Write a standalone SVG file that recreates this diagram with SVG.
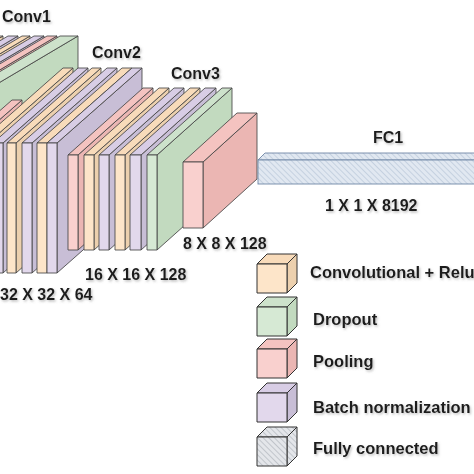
<svg xmlns="http://www.w3.org/2000/svg" width="474" height="474" viewBox="0 0 474 474">
<defs>
<style>
.s{stroke:#444;stroke-width:0.85;stroke-linejoin:round}
.pe-f{fill:#fde5c9}.pe-t{fill:#f8dbba}.pe-s{fill:#ecd0ae}
.pu-f{fill:#e2d8ec}.pu-t{fill:#d8cde5}.pu-s{fill:#c8bed6}
.pk-f{fill:#f9d0ce}.pk-t{fill:#f4c3c0}.pk-s{fill:#ebb6b3}
.gr-f{fill:#d6e9d4}.gr-t{fill:#cde2cb}.gr-s{fill:#c2dabf}
.fc{fill:url(#hatch);stroke:#6f87a6;stroke-width:0.9}
.lg{stroke:#333;stroke-width:1;stroke-linejoin:round}
.hx{fill:url(#hatch2);stroke:#333;stroke-width:1;stroke-linejoin:round}
text{font-family:"Liberation Sans",Arial,sans-serif;font-weight:bold;font-size:16px;fill:#1e1e1e;filter:url(#sh)}
.lt{font-size:16.5px}
</style>
<filter id="sh" x="-10%" y="-40%" width="130%" height="200%">
<feDropShadow dx="1.2" dy="1.5" stdDeviation="1.2" flood-color="#7a7a7a" flood-opacity="0.5"/>
</filter>
<pattern id="hatch" width="4" height="4" patternUnits="userSpaceOnUse" patternTransform="rotate(-45)">
<rect width="4" height="4" fill="#e1e8f1"/>
<line x1="0" y1="0" x2="0" y2="4" stroke="#b3c2d5" stroke-width="1.2"/>
</pattern>
<pattern id="hatch2" width="4" height="4" patternUnits="userSpaceOnUse" patternTransform="rotate(-45)">
<rect width="4" height="4" fill="#e4e6ea"/>
<line x1="0" y1="0" x2="0" y2="4" stroke="#9ea4ad" stroke-width="1"/>
</pattern>
</defs>
<rect width="474" height="474" fill="#ffffff"/>

<g id="conv1-stack">
<g id="a1"><path class="s pe-s" d="M-127 113 L3 36 L3 196 L-127 273Z"/><path class="s pe-t" d="M-135 113 L-5 36 L3 36 L-127 113Z"/></g>
<g id="a2"><path class="s pu-s" d="M-112 113 L18 36 L18 196 L-112 273Z"/><path class="s pu-t" d="M-122 113 L8 36 L18 36 L-112 113Z"/></g>
<g id="a3"><path class="s pe-s" d="M-100 113 L30 36 L30 196 L-100 273Z"/><path class="s pe-t" d="M-108 113 L22 36 L30 36 L-100 113Z"/></g>
<g id="a4"><path class="s pu-s" d="M-86 113 L44 36 L44 196 L-86 273Z"/><path class="s pu-t" d="M-96 113 L34 36 L44 36 L-86 113Z"/></g>
<g id="a5"><path class="s pk-s" d="M-73 113 L57 36 L57 196 L-73 273Z"/><path class="s pk-t" d="M-83 113 L47 36 L57 36 L-73 113Z"/></g>
<g id="a6"><path class="s gr-s" d="M-52 113 L78 36 L78 196 L-52 273Z"/><path class="s gr-t" d="M-70 113 L60 36 L78 36 L-52 113Z"/></g>
</g>

<g id="conv2-stack">
<g id="b0"><path class="s pk-s" d="M-27 143 L22 100 L22 230 L-27 273Z"/><path class="s pk-t" d="M-37 143 L12 100 L22 100 L-27 143Z"/></g>
<g id="b1"><path class="s pe-s" d="M-12 143 L73 68 L73 198 L-12 273Z"/><path class="s pe-t" d="M-22 143 L63 68 L73 68 L-12 143Z"/></g>
<g id="b2"><path class="s pu-s" d="M3 143 L88 68 L88 198 L3 273Z"/><path class="s pu-t" d="M-7 143 L78 68 L88 68 L3 143Z"/><rect class="s pu-f" x="-7" y="143" width="10" height="130"/></g>
<g id="b3"><path class="s pe-s" d="M16 143 L101 68 L101 198 L16 273Z"/><path class="s pe-t" d="M7 143 L92 68 L101 68 L16 143Z"/><rect class="s pe-f" x="7" y="143" width="9" height="130"/></g>
<g id="b4"><path class="s pu-s" d="M32 143 L117 68 L117 198 L32 273Z"/><path class="s pu-t" d="M22 143 L107 68 L117 68 L32 143Z"/><rect class="s pu-f" x="22" y="143" width="10" height="130"/></g>
<g id="b5"><path class="s pe-s" d="M47 143 L132 68 L132 198 L47 273Z"/><path class="s pe-t" d="M37 143 L122 68 L132 68 L47 143Z"/><rect class="s pe-f" x="37" y="143" width="10" height="130"/></g>
<g id="b6"><path class="s pu-s" d="M57 143 L142 68 L142 198 L57 273Z"/><path class="s pu-t" d="M47 143 L132 68 L142 68 L57 143Z"/><rect class="s pu-f" x="47" y="143" width="10" height="130"/></g>
</g>

<g id="conv3-stack">
<g id="c1"><path class="s pk-s" d="M78 155 L153 88 L153 183 L78 250Z"/><path class="s pk-t" d="M68 155 L143 88 L153 88 L78 155Z"/><rect class="s pk-f" x="68" y="155" width="10" height="95"/></g>
<g id="c2"><path class="s pe-s" d="M94 155 L169 88 L169 183 L94 250Z"/><path class="s pe-t" d="M84 155 L159 88 L169 88 L94 155Z"/><rect class="s pe-f" x="84" y="155" width="10" height="95"/></g>
<g id="c3"><path class="s pu-s" d="M109 155 L184 88 L184 183 L109 250Z"/><path class="s pu-t" d="M99 155 L174 88 L184 88 L109 155Z"/><rect class="s pu-f" x="99" y="155" width="10" height="95"/></g>
<g id="c4"><path class="s pe-s" d="M125 155 L200 88 L200 183 L125 250Z"/><path class="s pe-t" d="M115 155 L190 88 L200 88 L125 155Z"/><rect class="s pe-f" x="115" y="155" width="10" height="95"/></g>
<g id="c5"><path class="s pu-s" d="M141 155 L216 88 L216 183 L141 250Z"/><path class="s pu-t" d="M130 155 L205 88 L216 88 L141 155Z"/><rect class="s pu-f" x="130" y="155" width="11" height="95"/></g>
<g id="c6"><path class="s gr-s" d="M157 155 L232 88 L232 183 L157 250Z"/><path class="s gr-t" d="M147 155 L222 88 L232 88 L157 155Z"/><rect class="s gr-f" x="147" y="155" width="10" height="95"/></g>
</g>

<g id="pool-block">
<path class="s pk-s" d="M203 162 L257 113 L257 179 L203 228Z"/>
<path class="s pk-t" d="M183 162 L237 113 L257 113 L203 162Z"/>
<rect class="s pk-f" x="183" y="162" width="20" height="66"/>
</g>

<g id="fc1">
<path class="fc" d="M258 160 L265 153 L480 153 L480 160Z"/>
<rect class="fc" x="258" y="160" width="222" height="24"/>
</g>

<g id="connectors"></g>

<g id="labels">
<text x="2" y="22">Conv1</text>
<text x="92" y="58">Conv2</text>
<text x="171" y="79">Conv3</text>
<text x="373" y="143">FC1</text>
<text x="325" y="211">1 X 1 X 8192</text>
<text x="0" y="300">32 X 32 X 64</text>
<text x="85" y="280">16 X 16 X 128</text>
<text x="183" y="249">8 X 8 X 128</text>
</g>

<g id="legend-conv">
<path class="lg pe-s" d="M287 264 L297 254 L297 283 L287 293Z"/>
<path class="lg pe-t" d="M257 264 L267 254 L297 254 L287 264Z"/>
<rect class="lg pe-f" x="257" y="264" width="30" height="29"/>
<text class="lt" x="310" y="278">Convolutional + Relu</text>
</g>
<g id="legend-dropout">
<path class="lg gr-s" d="M287 307 L297 297 L297 326 L287 336Z"/>
<path class="lg gr-t" d="M257 307 L267 297 L297 297 L287 307Z"/>
<rect class="lg gr-f" x="257" y="307" width="30" height="29"/>
<text class="lt" x="313" y="325">Dropout</text>
</g>
<g id="legend-pooling">
<path class="lg pk-s" d="M287 349 L297 339 L297 368 L287 378Z"/>
<path class="lg pk-t" d="M257 349 L267 339 L297 339 L287 349Z"/>
<rect class="lg pk-f" x="257" y="349" width="30" height="29"/>
<text class="lt" x="313" y="367">Pooling</text>
</g>
<g id="legend-bn">
<path class="lg pu-s" d="M287 393 L297 383 L297 412 L287 422Z"/>
<path class="lg pu-t" d="M257 393 L267 383 L297 383 L287 393Z"/>
<rect class="lg pu-f" x="257" y="393" width="30" height="29"/>
<text class="lt" x="313" y="413">Batch normalization</text>
</g>
<g id="legend-fc">
<path class="hx" d="M287 437 L297 427 L297 456 L287 466Z"/>
<path class="hx" d="M257 437 L267 427 L297 427 L287 437Z"/>
<rect class="hx" x="257" y="437" width="30" height="29"/>
<text class="lt" x="313" y="454">Fully connected</text>
</g>
</svg>
